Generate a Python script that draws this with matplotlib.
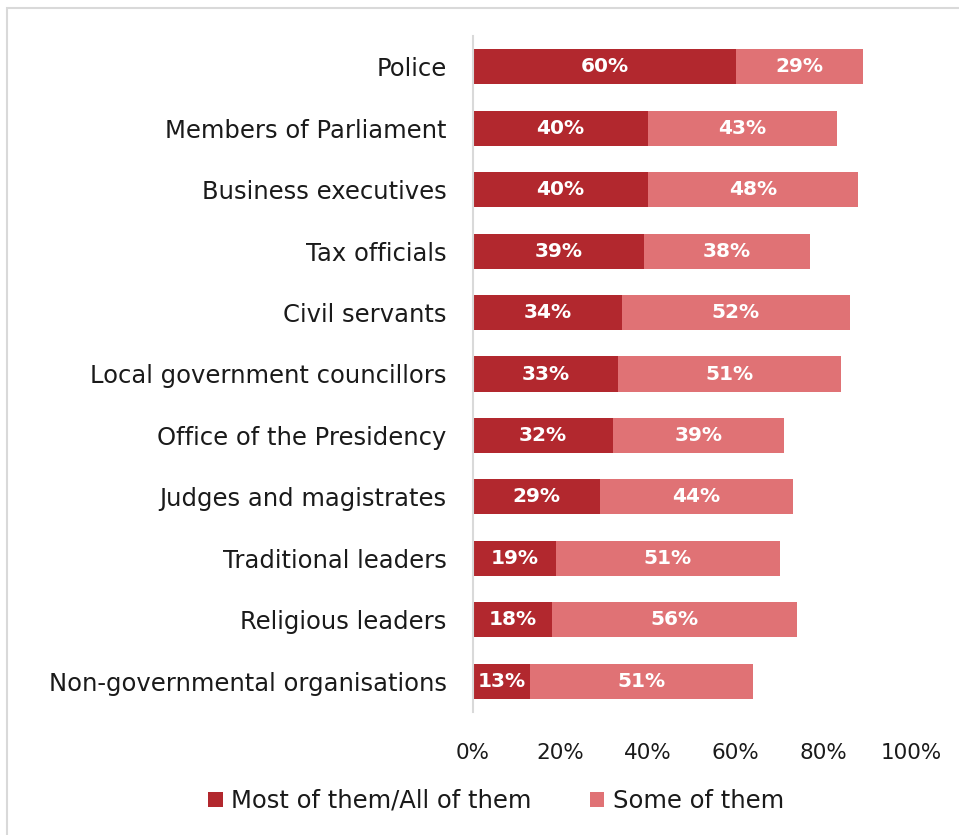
import matplotlib.pyplot as plt
from matplotlib.patches import Rectangle
import numpy as np

categories = [
    "Police",
    "Members of Parliament",
    "Business executives",
    "Tax officials",
    "Civil servants",
    "Local government councillors",
    "Office of the Presidency",
    "Judges and magistrates",
    "Traditional leaders",
    "Religious leaders",
    "Non-governmental organisations",
]
most_all = [60, 40, 40, 39, 34, 33, 32, 29, 19, 18, 13]
some = [29, 43, 48, 38, 52, 51, 39, 44, 51, 56, 51]
series_names = ["Most of them/All of them", "Some of them"]
tick_values = [0, 20, 40, 60, 80, 100]

dark = "#B2282E"
light = "#E07275"
plt.rcParams["font.family"] = ["DejaVu Sans"]

W, H = 959, 835
fig = plt.figure(figsize=(W / 100, H / 100), dpi=100)
ax = fig.add_axes([473 / W, 1 - 712 / H, (911 - 473) / W, (712 - 36) / H])

y = np.arange(len(categories))
h = 0.57
b1 = ax.barh(y, most_all, height=h, color=dark, label=series_names[0])
b2 = ax.barh(y, some, left=most_all, height=h, color=light, label=series_names[1])

for i in range(len(categories)):
    ax.text(most_all[i] / 2, y[i], f"{most_all[i]}%", ha="center", va="center",
            color="white", fontsize=14.5, fontweight="bold")
    ax.text(most_all[i] + some[i] / 2, y[i], f"{some[i]}%", ha="center", va="center",
            color="white", fontsize=14.5, fontweight="bold")

ax.set_xlim(0, 100)
ax.set_ylim(len(categories) - 0.5, -0.5)
ax.set_yticks(y)
ax.set_yticklabels(categories, fontsize=17.5, color="#1a1a1a")
ax.set_xticks(tick_values)
ax.set_xticklabels([f"{v}%" for v in tick_values], fontsize=15.5, color="#1a1a1a")
ax.tick_params(axis="both", length=0)
ax.tick_params(axis="y", pad=19)
ax.tick_params(axis="x", pad=22)
for s in ["top", "right", "bottom"]:
    ax.spines[s].set_visible(False)
ax.spines["left"].set_color("#D9D9D9")
ax.spines["left"].set_linewidth(1.5)

leg = fig.legend(handles=[b1, b2], labels=series_names, loc="center",
                 bbox_to_anchor=(496 / W, 1 - 801 / H), ncol=2, frameon=False,
                 fontsize=17.5, handlelength=0.6, handleheight=0.6,
                 handletextpad=0.35, columnspacing=2.4)
for t in leg.get_texts():
    t.set_color("#1a1a1a")

# outer chart frame
fig.patches.append(Rectangle((7 / W, -0.1), 1.2, 1 - 8 / H + 0.1,
                             transform=fig.transFigure, fill=False,
                             edgecolor="#D9D9D9", linewidth=1.5))

fig.savefig("out.png", dpi=100)
